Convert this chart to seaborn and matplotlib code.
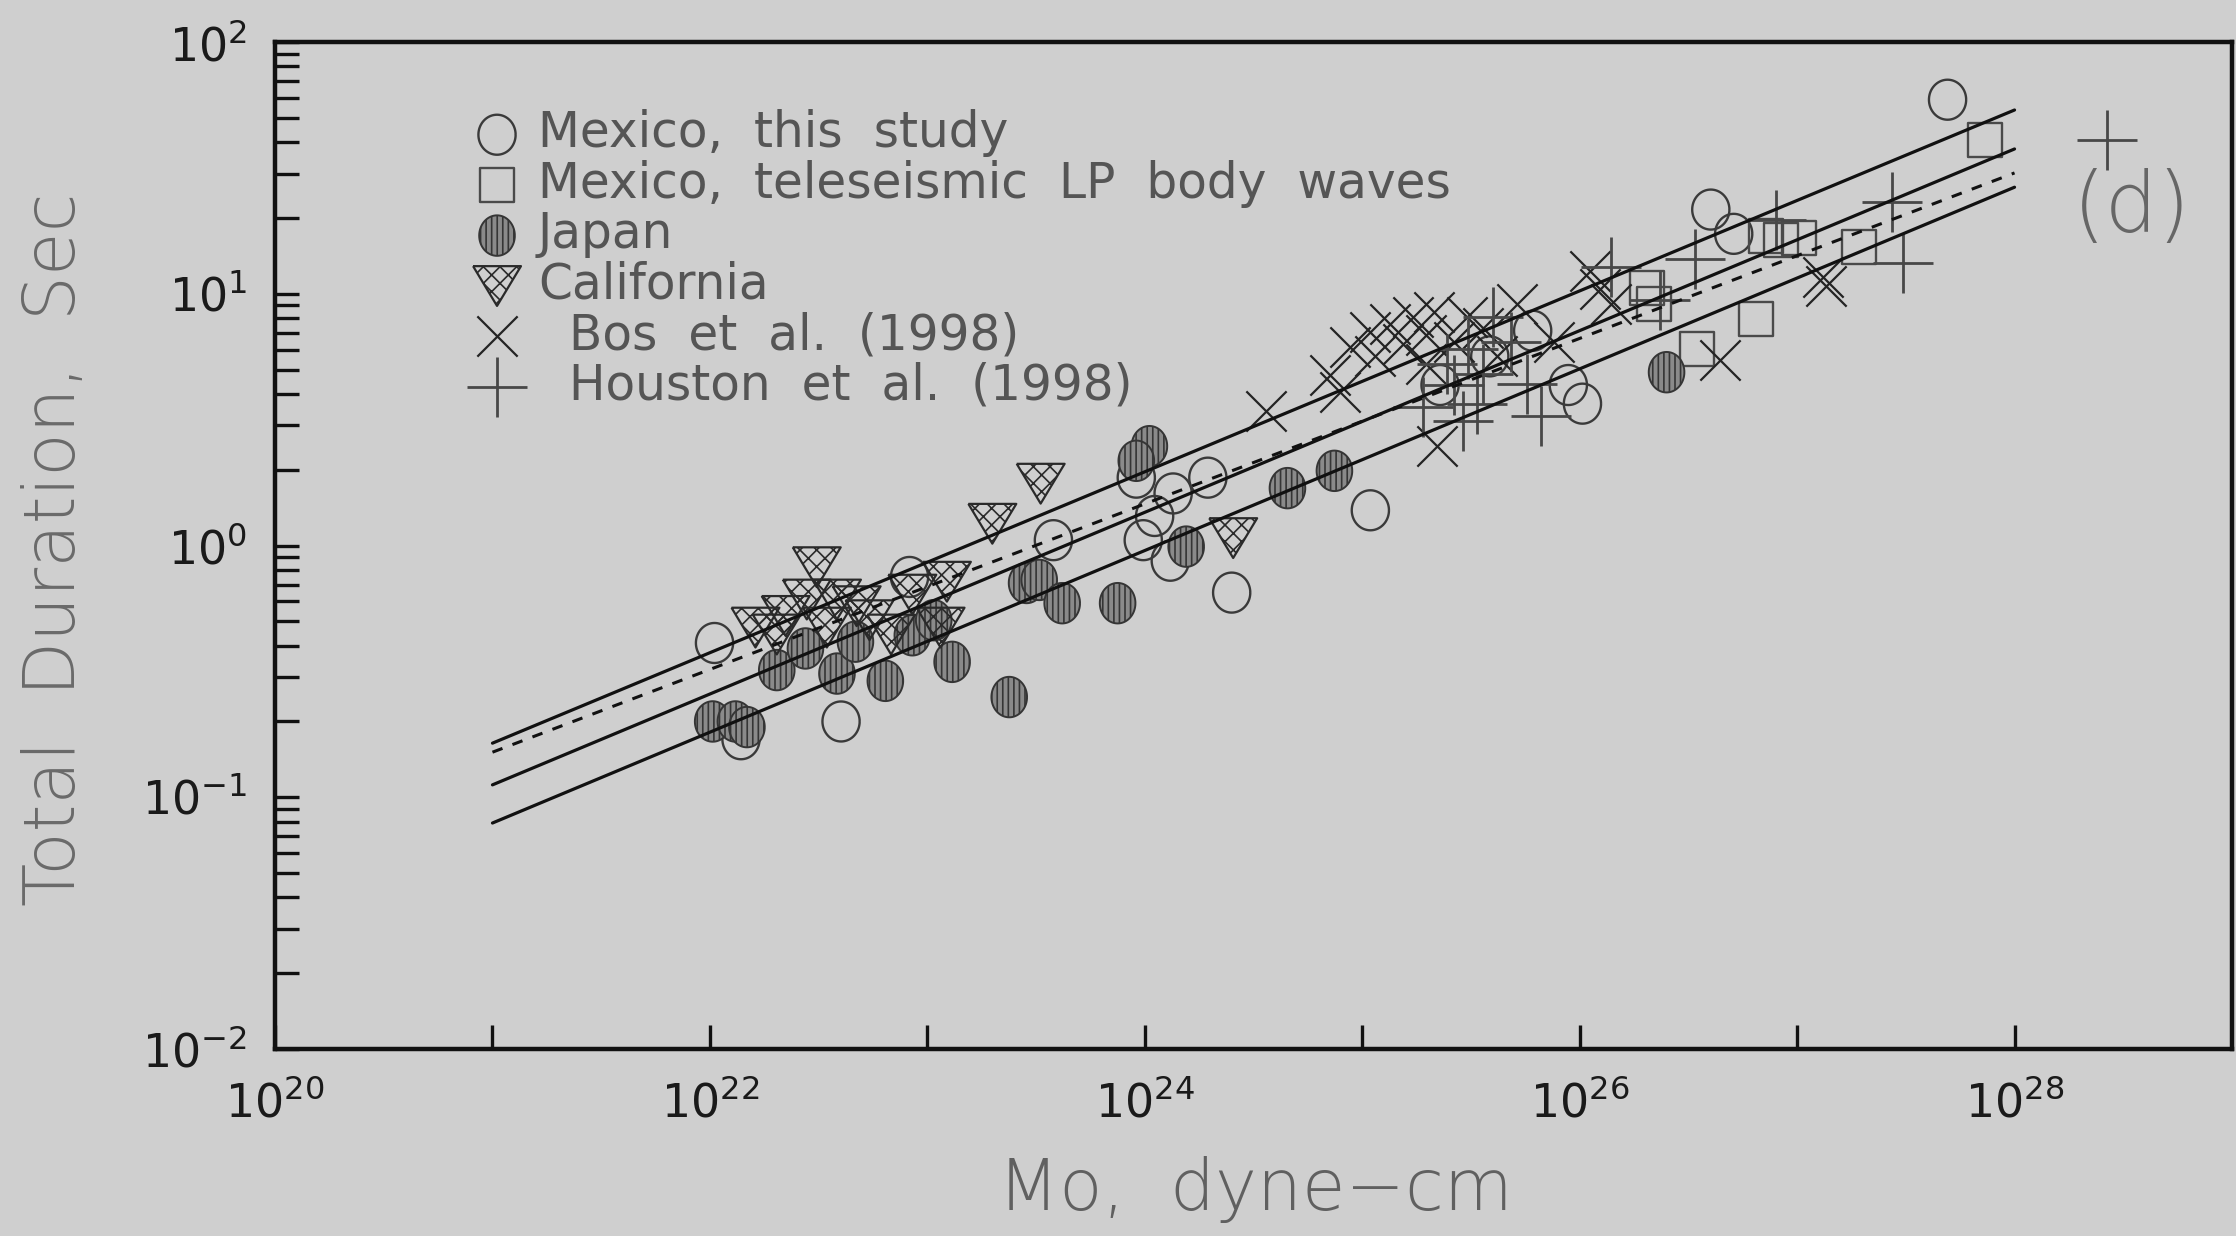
import numpy as np
import matplotlib
matplotlib.use("Agg")
import matplotlib.pyplot as plt
from matplotlib.ticker import LogLocator, NullLocator, NullFormatter
import seaborn as sns

# ---------------- data: seismic moment (dyne-cm) vs total duration (s) ----------------
mex_study_mo = [1.05e22, 1.39e22, 4.01e22, 8.28e22, 3.80e23, 9.14e23, 1.95e24, 1.35e24,
                9.84e23, 1.31e24, 1.11e24, 2.51e24, 1.09e25, 2.28e25, 3.86e25, 6.08e25,
                8.87e25, 1.03e26, 4.01e26, 5.11e26, 4.92e27]
mex_study_t = [0.41, 0.17, 0.20, 0.75, 1.05, 1.86, 1.86, 1.61,
               1.05, 0.87, 1.31, 0.65, 1.38, 4.34, 5.64, 7.13,
               4.34, 3.66, 21.6, 17.3, 59.0]

mex_tele_mo = [2.03e26, 2.19e26, 3.45e26, 6.50e26, 7.23e26, 8.41e26, 1.02e27, 1.93e27, 7.28e27]
mex_tele_t = [10.5, 9.12, 6.01, 7.91, 16.9, 16.4, 16.6, 15.4, 40.9]

japan_mo = [1.03e22, 1.31e22, 1.48e22, 2.03e22, 2.75e22, 3.84e22, 6.41e22, 4.67e22,
            8.53e22, 1.07e23, 1.30e23, 2.38e23, 2.86e23, 3.27e23, 4.17e23, 7.50e23,
            1.05e24, 9.14e23, 1.55e24, 4.53e24, 7.45e24, 2.51e26]
japan_t = [0.20, 0.20, 0.19, 0.32, 0.39, 0.31, 0.29, 0.415,
           0.44, 0.505, 0.345, 0.25, 0.71, 0.73, 0.59, 0.59,
           2.48, 2.17, 0.99, 1.69, 1.98, 4.88]

california_mo = [3.10e22, 2.79e22, 2.23e22, 3.84e22, 4.73e22, 8.53e22, 1.23e23, 1.99e23,
                 3.32e23, 2.55e24, 1.62e22, 2.03e22, 5.42e22, 1.15e23, 6.81e22, 3.45e22]
california_t = [0.82, 0.61, 0.525, 0.61, 0.574, 0.638, 0.718, 1.22,
                1.76, 1.07, 0.472, 0.443, 0.505, 0.472, 0.443, 0.472]

bos_mo = [3.61e24, 7.11e24, 8.79e24, 1.09e25, 1.34e25, 1.71e25, 2.14e25, 1.54e25,
          1.15e25, 2.21e25, 3.03e25, 5.14e25, 4.17e25, 1.11e26, 1.24e26, 4.40e26,
          1.36e27, 1.32e27, 2.65e25, 7.90e24, 3.58e25, 1.39e26, 1.96e25, 7.62e25, 1.96e25]
bos_t = [3.43, 4.75, 6.17, 7.03, 7.60, 8.11, 8.43, 6.34,
         5.64, 2.48, 8.11, 9.12, 5.64, 12.3, 10.4, 5.48,
         10.7, 11.7, 6.41, 4.06, 7.31, 9.12, 5.27, 6.41, 6.85]

houston_mo = [2.90e25, 3.37e25, 6.65e25, 5.71e25, 3.98e25, 1.90e25, 1.39e26, 3.40e26,
              8.04e26, 2.33e26, 2.67e28, 3.08e27, 2.73e27, 2.45e25, 3.08e25, 3.58e25,
              2.65e25, 4.84e25]
houston_t = [3.13, 3.66, 3.26, 4.40, 8.11, 3.56, 12.8, 13.7,
             19.7, 9.48, 40.9, 13.3, 23.1, 5.27, 6.01, 4.82,
             4.34, 6.41]

# scaling relations (end points)
fit_mo = [1e21, 1e28]
fit_upper = [0.164, 53.7]
fit_mid = [0.112, 37.6]
fit_lower = [0.079, 26.5]
fit_cube = [0.151, 30.2]

x_ticks = [1e20, 1e21, 1e22, 1e23, 1e24, 1e25, 1e26, 1e27, 1e28]
x_tick_labels = ["$10^{20}$", "", "$10^{22}$", "", "$10^{24}$", "", "$10^{26}$", "", "$10^{28}$"]
y_ticks = [1e-2, 1e-1, 1e0, 1e1, 1e2]
y_tick_labels = ["$10^{-2}$", "$10^{-1}$", "$10^{0}$", "$10^{1}$", "$10^{2}$"]

# ---------------- style ----------------
sns.set_theme(style="ticks")
plt.rcParams["font.family"] = ["DejaVu Sans"]
plt.rcParams["hatch.color"] = "#2c2c2c"
plt.rcParams["hatch.linewidth"] = 1.2

BG = "#cfcfcf"
fig = plt.figure(figsize=(22.36, 12.36), dpi=100, facecolor=BG)
ax = fig.add_axes([0.1230, 0.1513, 0.8752, 0.8147], facecolor=BG)
ax.set_xscale("log")
ax.set_yscale("log")

tt = np.linspace(0, 2 * np.pi, 73)
circle_marker = list(zip(0.93 * np.cos(tt), np.sin(tt)))
ellipse_marker = list(zip(0.88 * np.cos(tt), np.sin(tt)))
tri_marker = [(-1, 0.83), (1, 0.83), (0, -0.83), (-1, 0.83)]

sns.scatterplot(x=mex_study_mo, y=mex_study_t, ax=ax, marker=circle_marker, s=830,
                facecolor="none", edgecolor="#3a3a3a", linewidth=1.7,
                label="Mexico,  this  study", zorder=2)
sns.scatterplot(x=mex_tele_mo, y=mex_tele_t, ax=ax, marker="s", s=600,
                facecolor="none", edgecolor="#4a4a4a", linewidth=1.7,
                label="Mexico,  teleseismic  LP  body  waves", zorder=2)
sns.scatterplot(x=japan_mo, y=japan_t, ax=ax, marker=ellipse_marker, s=850,
                facecolor="#8a8a8a", edgecolor="#353535", linewidth=1.4, hatch="|||",
                label="Japan", zorder=2)
sns.scatterplot(x=california_mo, y=california_t, ax=ax, marker=tri_marker, s=1190,
                facecolor="none", edgecolor="#2a2a2a", linewidth=1.6, hatch="xx",
                label="California", zorder=2)
sns.scatterplot(x=bos_mo, y=bos_t, ax=ax, marker="x", s=840, color="#242424",
                linewidth=1.6, label="  Bos  et  al.  (1998)", zorder=2)
sns.scatterplot(x=houston_mo, y=houston_t, ax=ax, marker="+", s=1870, color="#484848",
                linewidth=2.0, label="  Houston  et  al.  (1998)", zorder=2)

# scaling lines
for yv in (fit_upper, fit_mid, fit_lower):
    sns.lineplot(x=fit_mo, y=yv, ax=ax, color="#111111", linewidth=2.3, zorder=4)
sns.lineplot(x=fit_mo, y=fit_cube, ax=ax, color="#111111", linewidth=2.2,
             linestyle=(0, (3.5, 3.5)), zorder=4)

ax.set_xlim(1e20, 1e29)
ax.set_ylim(1e-2, 1e2)

# ticks
ax.set_xticks(x_ticks, labels=x_tick_labels)
ax.xaxis.set_minor_locator(NullLocator())
ax.set_yticks(y_ticks, labels=y_tick_labels)
ax.yaxis.set_minor_locator(LogLocator(base=10, subs=np.arange(2, 10)))
ax.yaxis.set_minor_formatter(NullFormatter())
ax.tick_params(which="both", direction="in", length=17, width=2.4, color="#111111",
               top=False, right=False)
ax.tick_params(axis="x", labelsize=33, pad=23, labelcolor="#1a1a1a")
ax.tick_params(axis="y", labelsize=33, pad=20, labelcolor="#1a1a1a")

for sp in ax.spines.values():
    sp.set_linewidth(3.2)
    sp.set_color("#111111")

# axis labels
ax.set_xlabel("Mo,  dyne\u2212cm", fontsize=51, color="#606060", fontweight="light")
ax.xaxis.set_label_coords(0.5008, -0.106)
ax.set_ylabel("Total  Duration,  Sec", fontsize=51, color="#6a6a6a", fontweight="light")
ax.yaxis.set_label_coords(-0.0945, 0.4965)

# panel tag
ax.text(0.949, 0.834, "(d)", transform=ax.transAxes, fontsize=60, color="#666666",
        ha="center", va="center", fontweight="light")

# legend
ax.legend(loc="upper left", bbox_to_anchor=(0.1035, 0.933), frameon=False, fontsize=35,
          labelspacing=0.05, handlelength=0.8, handletextpad=0.44, borderpad=0,
          borderaxespad=0, labelcolor="#555555", scatterpoints=1)

fig.savefig("out.png", dpi=100, facecolor=BG)
